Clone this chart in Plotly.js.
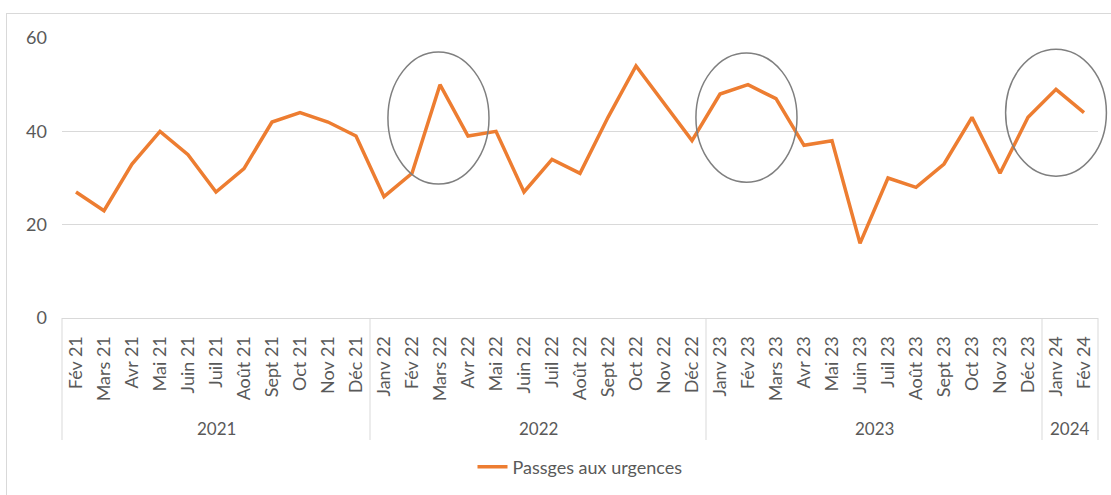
<!DOCTYPE html>
<html>
<head>
<meta charset="utf-8">
<script src="https://cdn.plot.ly/plotly-3.0.1.min.js"></script>
<style>
  html, body { margin: 0; padding: 0; background: #ffffff; }
  #frame { position: absolute; left: 6px; top: 13px; width: 1200px; height: 600px; border: 1px solid #d9d9d9; box-sizing: border-box; }
  #chart { position: absolute; left: 0; top: 0; width: 1111px; height: 495px; }
</style>
</head>
<body>
<div id="frame"></div>
<div id="chart"></div>
<script>
// ---- data ----
const years = [
  '2021','2021','2021','2021','2021','2021','2021','2021','2021','2021','2021',
  '2022','2022','2022','2022','2022','2022','2022','2022','2022','2022','2022','2022',
  '2023','2023','2023','2023','2023','2023','2023','2023','2023','2023','2023','2023',
  '2024','2024'
];
const months = [
  'Fév 21','Mars 21','Avr 21','Mai 21','Juin 21','Juil 21','Août 21','Sept 21','Oct 21','Nov 21','Déc 21',
  'Janv 22','Fév 22','Mars 22','Avr 22','Mai 22','Juin 22','Juil 22','Août 22','Sept 22','Oct 22','Nov 22','Déc 22',
  'Janv 23','Fév 23','Mars 23','Avr 23','Mai 23','Juin 23','Juil 23','Août 23','Sept 23','Oct 23','Nov 23','Déc 23',
  'Janv 24','Fév 24'
];
const passages = [
  27, 23, 33, 40, 35, 27, 32, 42, 44, 42, 39,
  26, 31, 50, 39, 40, 27, 34, 31, 43, 54, 46, 38,
  48, 50, 47, 37, 38, 16, 30, 28, 33, 43, 31, 43,
  49, 44
];
const seriesName = 'Passges aux urgences';
const yTicks = [0, 20, 40, 60];

// ---- highlight ellipses (in category-index / value units) ----
const ellipses = [
  { i0: 11.14, i1: 14.75, v0: 28.7, v1: 57.0 },
  { i0: 22.14, i1: 25.75, v0: 29.1, v1: 56.8 },
  { i0: 33.20, i1: 36.80, v0: 30.4, v1: 57.6 }
];

const N = months.length;
const yMax = 60;
const W = 1111, H = 495;
const margin = { l: 62, r: 13, t: 38, b: 177 };
const plotH = H - margin.t - margin.b;
const px = i => (i + 0.5) / N;          // category index -> paper x
const py = v => v / yMax;               // value -> paper y
const belowAxis = d => -d / plotH;      // pixels below the axis -> paper y

const gray = '#595959';
const lineGray = '#d9d9d9';
const font = 'Lato, "Liberation Sans", sans-serif';

// year groups built from the years array
const groups = [];
years.forEach((yr, i) => {
  const g = groups[groups.length - 1];
  if (g && g.label === yr) g.end = i; else groups.push({ label: yr, start: i, end: i });
});

const trace = {
  type: 'scatter',
  mode: 'lines',
  x: months,
  y: passages,
  name: seriesName,
  line: { color: '#ED7D31', width: 3.5 },
  showlegend: true
};

const dividerShapes = [];
groups.forEach((g, k) => {
  if (k === 0) dividerShapes.push(g.start - 0.5);
  dividerShapes.push(g.end + 0.5);
});

const shapes = dividerShapes.map(b => ({
  type: 'line', xref: 'paper', yref: 'paper',
  x0: px(b), x1: px(b), y0: 0, y1: belowAxis(122),
  line: { color: lineGray, width: 1 }, layer: 'below'
})).concat(ellipses.map(e => ({
  type: 'circle', xref: 'paper', yref: 'paper',
  x0: px(e.i0), x1: px(e.i1), y0: py(e.v0), y1: py(e.v1),
  line: { color: '#7f7f7f', width: 1.5 },
  layer: 'above'
})));

const annotations = groups.map(g => ({
  xref: 'paper', yref: 'paper',
  x: px((g.start + g.end) / 2), y: belowAxis(110),
  text: g.label, showarrow: false,
  xanchor: 'center', yanchor: 'middle',
  font: { family: font, size: 17, color: gray }
}));

const layout = {
  width: W, height: H,
  margin: Object.assign({ autoexpand: false }, margin),
  paper_bgcolor: 'rgba(0,0,0,0)',
  plot_bgcolor: 'rgba(0,0,0,0)',
  font: { family: font, color: gray, size: 18 },
  showlegend: true,
  legend: {
    orientation: 'h', x: 0.5, xanchor: 'center', y: belowAxis(149), yanchor: 'middle',
    font: { family: font, size: 18, color: gray }
  },
  xaxis: {
    type: 'category',
    range: [-0.5, N - 0.5],
    automargin: false,
    tickangle: -90,
    tickfont: { family: font, size: 18, color: gray },
    ticklabelstandoff: 10,
    showline: true, linecolor: lineGray, linewidth: 1,
    showgrid: false,
    ticks: '',
    zeroline: false
  },
  yaxis: {
    range: [0, yMax],
    automargin: false,
    tickvals: yTicks,
    showgrid: true, gridcolor: lineGray, gridwidth: 1,
    zeroline: false,
    showline: false,
    ticks: '',
    ticklabelstandoff: 14,
    tickfont: { family: font, size: 18, color: gray }
  },
  shapes: shapes,
  annotations: annotations
};

Plotly.newPlot('chart', [trace], layout, { displayModeBar: false, staticPlot: true });
</script>
</body>
</html>
